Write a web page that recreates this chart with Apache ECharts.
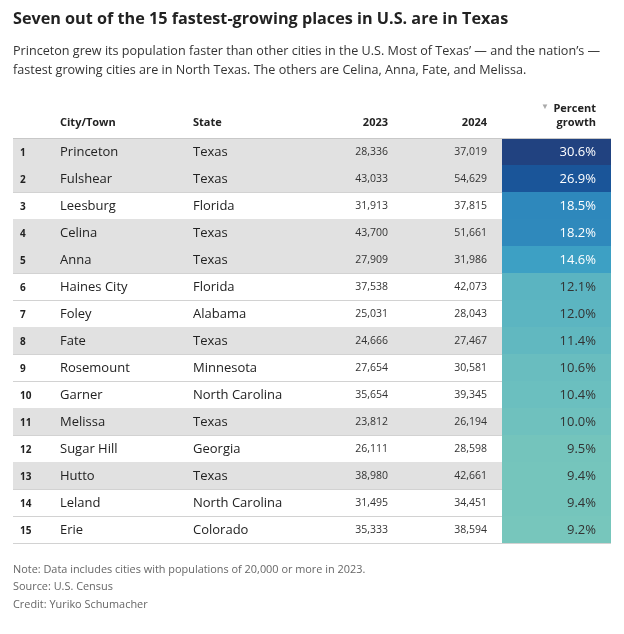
<!DOCTYPE html>
<html>
<head>
<meta charset="utf-8">
<script src="https://cdn.jsdelivr.net/npm/echarts@6/dist/echarts.min.js"></script>
<style>
  html, body { margin: 0; padding: 0; background: #fff; }
  #chart { width: 624px; height: 634px; }
</style>
</head>
<body>
<div id="chart"></div>
<script>
const ranks = ["1", "2", "3", "4", "5", "6", "7", "8", "9", "10", "11", "12", "13", "14", "15"];
const cities = ["Princeton", "Fulshear", "Leesburg", "Celina", "Anna", "Haines City", "Foley", "Fate",
  "Rosemount", "Garner", "Melissa", "Sugar Hill", "Hutto", "Leland", "Erie"];
const states = ["Texas", "Texas", "Florida", "Texas", "Texas", "Florida", "Alabama", "Texas",
  "Minnesota", "North Carolina", "Texas", "Georgia", "Texas", "North Carolina", "Colorado"];
const pop2023 = [28336, 43033, 31913, 43700, 27909, 37538, 25031, 24666, 27654, 35654, 23812, 26111, 38980, 31495, 35333];
const pop2024 = [37019, 54629, 37815, 51661, 31986, 42073, 28043, 27467, 30581, 39345, 26194, 28598, 42661, 34451, 38594];
const growth = [30.6, 26.9, 18.5, 18.2, 14.6, 12.1, 12.0, 11.4, 10.6, 10.4, 10.0, 9.5, 9.4, 9.4, 9.2];

const FONT = '"Open Sans", "Noto Sans", sans-serif';
const chart = echarts.init(document.getElementById("chart"), null, { renderer: "canvas" });

// column layout, px from the table's left edge
const COL = { rank: 7, city: 47, state: 180, y2023: 375, y2024: 474, pctLeft: 489, pctRight: 598, pctText: 583 };

function txt(x, y, text, font, fill, align) {
  return {
    type: "text",
    style: { x, y, text, font, fill, align: align || "left", textAlign: align || "left",
      verticalAlign: "middle", textVerticalAlign: "middle" },
  };
}

function renderRow(params, api) {
  const i = api.value(1);
  const c = api.coord([0, i]);
  const band = api.size([0, 1])[1];
  const col = (x) => api.coord([x, i])[0];
  const top = c[1] - band / 2;
  const yc = c[1] + 1;
  const children = [];
  if (states[i] === "Texas") {
    children.push({ type: "rect", shape: { x: col(0), y: top, width: col(COL.pctLeft) - col(0), height: band },
      style: { fill: "#e1e1e1" } });
  }
  children.push({ type: "rect", shape: { x: col(COL.pctLeft), y: top, width: col(COL.pctRight) - col(COL.pctLeft), height: band },
    style: { fill: api.visual("color") } });
  const lineY = Math.round(top + band) + 0.5;
  children.push({ type: "line", shape: { x1: col(0), y1: lineY, x2: col(COL.pctRight), y2: lineY },
    style: { stroke: "#d2d2d2", lineWidth: 1 } });
  if (i === 0) {
    const t = Math.round(top) + 0.5;
    children.push({ type: "line", shape: { x1: col(0), y1: t, x2: col(COL.pctRight), y2: t },
      style: { stroke: "#c8c8c8", lineWidth: 1 } });
  }
  children.push(txt(col(COL.rank), yc + 1, ranks[i], "bold 10px " + FONT, "#222"));
  children.push(txt(col(COL.city), yc, cities[i], "13px " + FONT, "#222"));
  children.push(txt(col(COL.state), yc, states[i], "13px " + FONT, "#222"));
  children.push(txt(col(COL.y2023), yc, pop2023[i].toLocaleString("en-US"), "10.5px " + FONT, "#333", "right"));
  children.push(txt(col(COL.y2024), yc, pop2024[i].toLocaleString("en-US"), "10.5px " + FONT, "#333", "right"));
  children.push(txt(col(COL.pctText), yc, growth[i].toFixed(1) + "%", "13px " + FONT,
    growth[i] > 13 ? "#ffffff" : "#333333", "right"));
  return { type: "group", children };
}

function label(x, y, text, font, fill, align) {
  return {
    type: "text", x, y,
    style: { x: 0, y: 0, text, font, fill, align: align || "left", textAlign: align || "left",
      verticalAlign: "middle", textVerticalAlign: "middle" },
  };
}

chart.setOption({
  animation: false,
  grid: { left: 13, right: 13, top: 138, height: 405 },
  xAxis: { type: "value", min: 0, max: 598, show: false },
  yAxis: { type: "category", data: ranks, inverse: true, show: false },
  visualMap: {
    type: "continuous", show: false, seriesIndex: 0, dimension: 2, min: 9, max: 31,
    inRange: { color: ["#79c7bb", "#65bbc0", "#52aec2", "#389dc4", "#318ec0", "#2d86ba",
      "#2778b0", "#226ba7", "#1e5f9f", "#1a5499", "#1e4a8c", "#22407d"] },
  },
  series: [{
    type: "custom",
    renderItem: renderRow,
    encode: { x: 0, y: 1 },
    data: growth.map((g, i) => [0, i, g]),
  }],
  graphic: [
    label(13, 19, "Seven out of the 15 fastest-growing places in U.S. are in Texas", "bold 16.2px " + FONT, "#222"),
    label(13, 51, "Princeton grew its population faster than other cities in the U.S. Most of Texas’ — and the nation’s —", "12.6px " + FONT, "#333"),
    label(13, 70, "fastest growing cities are in North Texas. The others are Celina, Anna, Fate, and Melissa.", "12.6px " + FONT, "#333"),
    label(60, 123, "City/Town", "bold 11px " + FONT, "#222"),
    label(193, 123, "State", "bold 11px " + FONT, "#222"),
    label(388, 123, "2023", "bold 11px " + FONT, "#222", "right"),
    label(487, 123, "2024", "bold 11px " + FONT, "#222", "right"),
    label(596, 109, "Percent", "bold 11px " + FONT, "#222", "right"),
    label(596, 123, "growth", "bold 11px " + FONT, "#222", "right"),
    label(545, 107, "▼", "8px " + FONT, "#aaa", "center"),
    label(13, 570, "Note: Data includes cities with populations of 20,000 or more in 2023.", "10.9px " + FONT, "#666"),
    label(13, 587, "Source: U.S. Census", "10.9px " + FONT, "#666"),
    label(13, 605, "Credit: Yuriko Schumacher", "10.9px " + FONT, "#666"),
  ],
});
</script>
</body>
</html>
